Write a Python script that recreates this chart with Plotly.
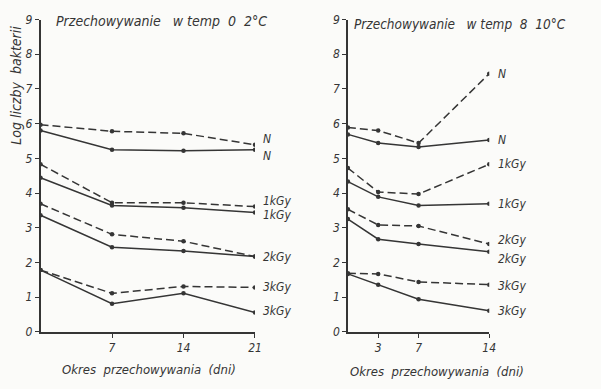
import plotly.graph_objects as go

# ---- data ----
days_left = [0, 7, 14, 21]
days_right = [0, 3, 7, 14]
left_ticks = [7, 14, 21]
right_ticks = [3, 7, 14]
y_ticks = [0, 1, 2, 3, 4, 5, 6, 7, 8, 9]

# Storage 0-2 °C (left panel)
L_N_dash = [5.97, 5.78, 5.72, 5.39]
L_N_solid = [5.80, 5.25, 5.22, 5.25]
L_1_dash = [4.83, 3.72, 3.72, 3.61]
L_1_solid = [4.44, 3.64, 3.58, 3.44]
L_2_dash = [3.69, 2.81, 2.61, 2.17]
L_2_solid = [3.36, 2.44, 2.33, 2.17]
L_3_dash = [1.78, 1.11, 1.31, 1.28]
L_3_solid = [1.78, 0.81, 1.11, 0.56]

# Storage 8-10 °C (right panel)
R_N_dash = [5.89, 5.80, 5.44, 7.44]
R_N_solid = [5.69, 5.44, 5.33, 5.53]
R_1_dash = [4.72, 4.03, 3.97, 4.83]
R_1_solid = [4.33, 3.89, 3.64, 3.69]
R_2_dash = [3.53, 3.08, 3.05, 2.53]
R_2_solid = [3.25, 2.67, 2.53, 2.31]
R_3_dash = [1.69, 1.67, 1.44, 1.36]
R_3_solid = [1.67, 1.36, 0.94, 0.61]

left_labels = ["N", "N", "1kGy", "1kGy", "2kGy", "", "3kGy", "3kGy"]
right_labels = ["N", "N", "1kGy", "1kGy", "2kGy", "2kGy", "3kGy", "3kGy"]
left_label_y = [5.56, 5.08, 3.76, 3.38, 2.17, None, 1.28, 0.61]
right_label_y = [7.44, 5.53, 4.83, 3.69, 2.64, 2.11, 1.31, 0.61]

INK = "#353535"
FONT = "DejaVu Sans Condensed, DejaVu Sans, sans-serif"

fig = go.Figure()

left_series = [L_N_dash, L_N_solid, L_1_dash, L_1_solid, L_2_dash, L_2_solid, L_3_dash, L_3_solid]
right_series = [R_N_dash, R_N_solid, R_1_dash, R_1_solid, R_2_dash, R_2_solid, R_3_dash, R_3_solid]

for i, s in enumerate(left_series):
    fig.add_trace(go.Scatter(
        x=days_left, y=s, mode="lines+markers", xaxis="x", yaxis="y",
        line=dict(color=INK, width=1.5, dash="8px,4px" if i % 2 == 0 else "solid"),
        marker=dict(color=INK, size=4.5), showlegend=False, hoverinfo="skip"))
for i, s in enumerate(right_series):
    fig.add_trace(go.Scatter(
        x=days_right, y=s, mode="lines+markers", xaxis="x2", yaxis="y2",
        line=dict(color=INK, width=1.5, dash="8px,4px" if i % 2 == 0 else "solid"),
        marker=dict(color=INK, size=4.5), showlegend=False, hoverinfo="skip"))

ann = []
for lab, yv in zip(left_labels, left_label_y):
    if lab and yv is not None:
        ann.append(dict(x=21, y=yv, xref="x", yref="y", text="<i>" + lab + "</i>",
                        showarrow=False, xanchor="left", xshift=6,
                        font=dict(size=12, color=INK, family=FONT)))
for lab, yv in zip(right_labels, right_label_y):
    ann.append(dict(x=14, y=yv, xref="x2", yref="y2", text="<i>" + lab + "</i>",
                    showarrow=False, xanchor="left", xshift=7,
                    font=dict(size=12, color=INK, family=FONT)))

# panel titles
ann.append(dict(x=55 / 601, y=0.962, xref="paper", yref="paper",
                text="<i>Przechowywanie   w temp  0  2°C</i>", showarrow=False,
                xanchor="left", yanchor="middle",
                font=dict(size=14, color=INK, family=FONT)))
ann.append(dict(x=356 / 601, y=0.955, xref="paper", yref="paper",
                text="<i>Przechowywanie   w temp  8  10°C</i>", showarrow=False,
                xanchor="left", yanchor="middle",
                font=dict(size=13.5, color=INK, family=FONT)))
# axis titles
ann.append(dict(x=0.027, y=0.79, xref="paper", yref="paper",
                text="<i>Log liczby  bakterii</i>", showarrow=False, textangle=-90,
                xanchor="center", yanchor="middle",
                font=dict(size=14, color=INK, family=FONT)))
ann.append(dict(x=0.25, y=0.033, xref="paper", yref="paper",
                text="<i>Okres  przechowywania  (dni)</i>", showarrow=False,
                xanchor="center", yanchor="middle",
                font=dict(size=13, color=INK, family=FONT)))
ann.append(dict(x=0.735, y=0.027, xref="paper", yref="paper",
                text="<i>Okres  przechowywania  (dni)</i>", showarrow=False,
                xanchor="center", yanchor="middle",
                font=dict(size=13, color=INK, family=FONT)))

ydom = [1 - 337 / 389, 1 - 13 / 389]
axis_common = dict(showgrid=False, zeroline=False, showline=True, linecolor=INK,
                   linewidth=1.5, ticks="outside", ticklen=4, tickcolor=INK,
                   tickfont=dict(size=12, color=INK, family=FONT, style="italic"))

fig.update_layout(
    width=601, height=389,
    margin=dict(l=0, r=0, t=0, b=0),
    paper_bgcolor="#fbfbf9", plot_bgcolor="rgba(0,0,0,0)",
    xaxis=dict(domain=[41 / 601, 258 / 601], range=[0, 21], anchor="y",
               tickmode="array", tickvals=left_ticks, ticktext=[str(t) for t in left_ticks],
               **axis_common),
    yaxis=dict(domain=ydom, range=[0, 9], anchor="x",
               tickmode="array", tickvals=y_ticks, ticktext=[str(t) for t in y_ticks],
               ticklabelstandoff=0, **axis_common),
    xaxis2=dict(domain=[352 / 601, 495 / 601], range=[0, 14], anchor="y2",
                tickmode="array", tickvals=right_ticks, ticktext=[str(t) for t in right_ticks],
                **axis_common),
    yaxis2=dict(domain=ydom, range=[0, 9], anchor="x2",
                tickmode="array", tickvals=y_ticks, ticktext=[str(t) for t in y_ticks],
                ticklabelstandoff=0, **axis_common),
    annotations=ann,
)

fig.write_html("out.html")
